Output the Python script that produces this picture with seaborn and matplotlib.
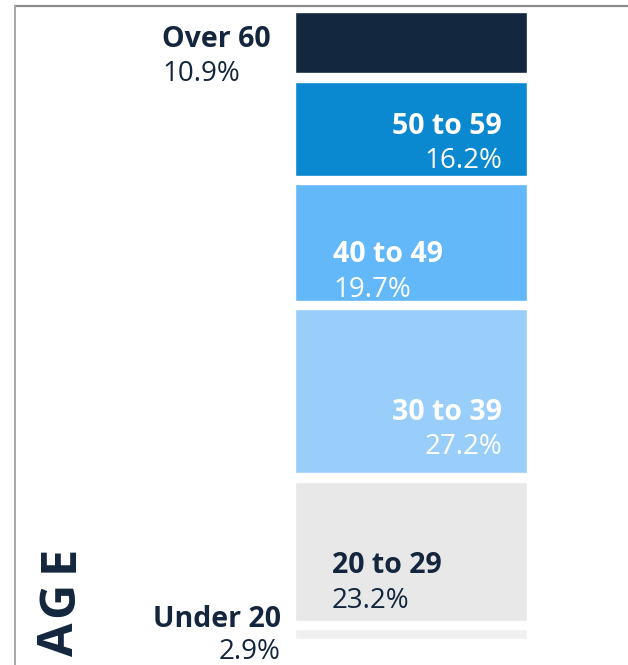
import matplotlib
matplotlib.use("Agg")
import matplotlib.pyplot as plt
import seaborn as sns

# age groups, bottom to top
groups = ["Under 20", "20 to 29", "30 to 39", "40 to 49", "50 to 59", "Over 60"]
shares = [2.9, 23.2, 27.2, 19.7, 16.2, 10.9]
colors = ["#f0f0f0", "#e8e8e8", "#99cefb", "#63b8f9", "#0a88d0", "#13283f"]
text_colors = ["#13263d", "#13263d", "white", "white", "white", "#13263d"]

sns.set_theme(style="white")
plt.rcParams["font.family"] = ["Open Sans", "DejaVu Sans"]

W, H = 628, 665
fig = plt.figure(figsize=(W / 100, H / 100), dpi=100)
ax = fig.add_axes([0, 0, 1, 1])

gap = 1.34  # white gap between segments, in percent units
bottom = 0
for g, v, c in zip(groups, shares, colors):
    sns.barplot(x=["age"], y=[v - gap], bottom=bottom + gap / 2, color=c,
                saturation=1, width=0.8, errorbar=None, ax=ax)
    bottom += v

# bar spans 295..527 px, stack top at 13 px
px = 232 / 0.8
ax.set_xlim(-0.4 - 295 / px, 0.4 + (W - 527) / px)
py = 6.345
top = 100 - gap / 2
ax.set_ylim(top - (H - 13) / py, top + 13 / py)
ax.axis("off")

# labels: (x px, anchor, label baseline px, pct baseline px)
label_pos = [
    (281, "right", 627, 659),
    (332, "left", 573, 608),
    (502, "right", 420, 454),
    (333, "left", 262, 297),
    (502, "right", 134, 168),
    (162, "left", 47, 81),
]
for g, v, tc, (x, ha, yl, yp) in zip(groups, shares, text_colors, label_pos):
    fig.text(x / W, 1 - yl / H, g, ha=ha, va="baseline",
             fontsize=20.5, fontweight="bold", color=tc)
    fig.text(x / W, 1 - yp / H, f"{v}%", ha=ha, va="baseline", fontsize=20,
             color=tc)

# vertical axis title, letter spaced
for letter, yc in zip("AGE", [639, 599, 558]):
    fig.text(73 / W, 1 - yc / H, letter, rotation=90, rotation_mode="anchor",
             ha="center", va="baseline", fontsize=35, fontweight="bold",
             color="#13263d")

# frame lines
fig.add_artist(plt.Line2D([15 / W, 1], [1 - 6 / H, 1 - 6 / H],
                          transform=fig.transFigure, color="#8c8c8c", lw=1.6))
fig.add_artist(plt.Line2D([15 / W, 15 / W], [1 - 6 / H, 0],
                          transform=fig.transFigure, color="#a8a8a8", lw=1.4))

fig.savefig("out.png", dpi=100)
